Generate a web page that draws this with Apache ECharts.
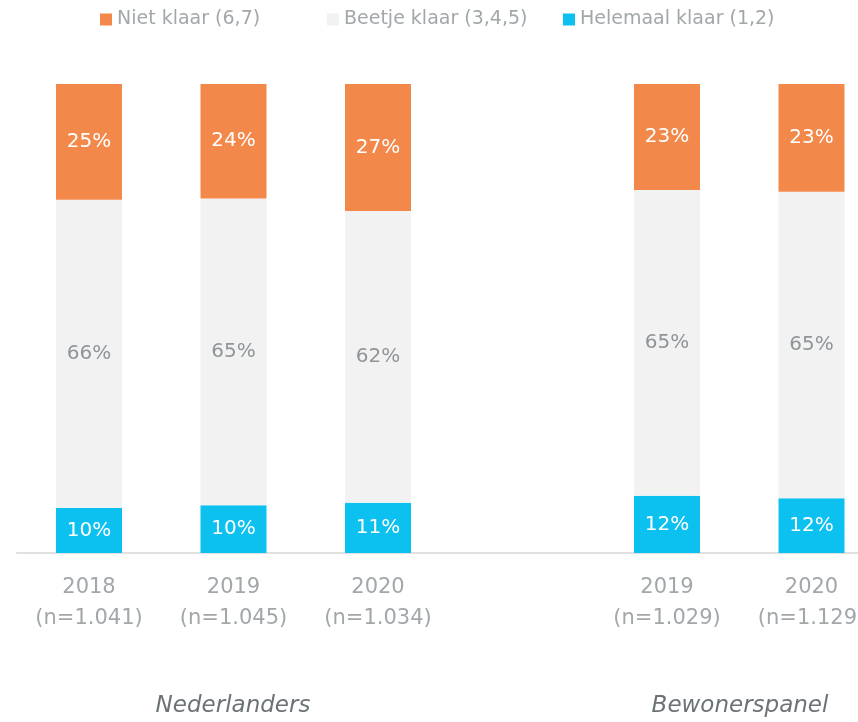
<!DOCTYPE html>
<html>
<head>
<meta charset="utf-8">
<script src="https://cdn.jsdelivr.net/npm/echarts@6/dist/echarts.min.js"></script>
<style>
  html, body { margin: 0; padding: 0; background: #fff; }
  #chart { width: 858px; height: 722px; }
</style>
</head>
<body>
<div id="chart"></div>
<script>
// categories (lege kolom tussen de twee groepen)
var categories = ['2018\n(n=1.041)', '2019\n(n=1.045)', '2020\n(n=1.034)', '', '2019\n(n=1.029)', '2020\n(n=1.129)'];
var seriesNames = ['Helemaal klaar (1,2)', 'Beetje klaar (3,4,5)', 'Niet klaar (6,7)'];
var helemaal = [9.6, 10.2, 10.7, null, 12.2, 11.7];
var beetje   = [65.7, 65.4, 62.2, null, 65.2, 65.3];
var niet     = [24.7, 24.4, 27.1, null, 22.6, 23.0];
var groups = ['Nederlanders', 'Bewonerspanel'];

var font = 'DejaVu Sans';
var chart = echarts.init(document.getElementById('chart'));

function pct(p) {
  return p.value == null ? '' : Math.round(p.value) + '%';
}

function bar(name, data, color, labelColor) {
  return {
    name: name,
    type: 'bar',
    stack: 'totaal',
    barWidth: 66,
    data: data,
    itemStyle: { color: color },
    label: {
      show: true,
      position: 'inside',
      formatter: pct,
      color: labelColor,
      fontFamily: font,
      fontSize: 20
    }
  };
}

function legendItem(name, left) {
  return {
    top: 5,
    left: left,
    itemWidth: 12,
    itemHeight: 12,
    icon: 'rect',
    data: [name],
    textStyle: { color: '#a2a7aa', fontFamily: font, fontSize: 19 }
  };
}

var option = {
  animation: false,
  color: ['#0cc0ef', '#f2f2f2', '#f3884b'],
  legend: [
    legendItem(seriesNames[2], 95),
    legendItem(seriesNames[1], 322),
    legendItem(seriesNames[0], 558)
  ],
  grid: {
    left: 16.75,
    width: 867,
    top: 84,
    bottom: 169,
    outerBoundsMode: 'none'
  },
  xAxis: {
    type: 'category',
    data: categories,
    axisLine: { lineStyle: { color: '#e0e0e0', width: 2 } },
    axisTick: { show: false },
    axisLabel: {
      color: '#a2a7aa',
      fontFamily: font,
      fontSize: 21,
      lineHeight: 31,
      margin: 19,
      interval: 0
    }
  },
  yAxis: {
    type: 'value',
    min: 0,
    max: 100,
    show: false,
    splitLine: { show: false }
  },
  series: [
    bar(seriesNames[0], helemaal, '#0cc0ef', '#ffffff'),
    bar(seriesNames[1], beetje, '#f2f2f2', '#8f9599'),
    bar(seriesNames[2], niet, '#f3884b', '#ffffff')
  ],
  graphic: [
    {
      type: 'text', x: 233, y: 706,
      style: { text: groups[0], fill: '#6b7377', font: 'italic 23px ' + font, textAlign: 'center', textVerticalAlign: 'middle' }
    },
    {
      type: 'text', x: 740, y: 706,
      style: { text: groups[1], fill: '#6b7377', font: 'italic 23px ' + font, textAlign: 'center', textVerticalAlign: 'middle' }
    }
  ]
};

chart.setOption(option);
</script>
</body>
</html>
